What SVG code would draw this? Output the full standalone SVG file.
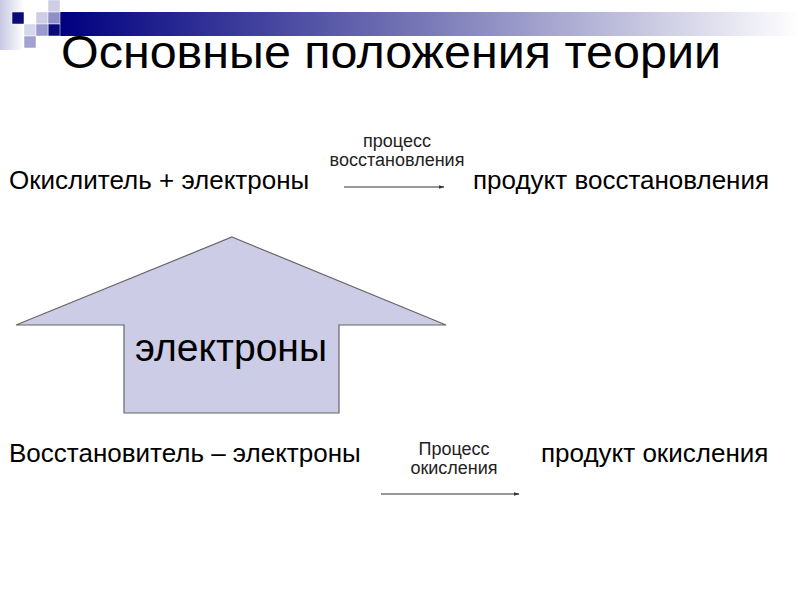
<svg xmlns="http://www.w3.org/2000/svg" width="800" height="600" viewBox="0 0 800 600">
<defs>
<linearGradient id="bar" x1="0" y1="0" x2="1" y2="0">
<stop offset="0" stop-color="#000080"/>
<stop offset="0.5" stop-color="#7a7ab8"/>
<stop offset="1" stop-color="#ffffff"/>
</linearGradient>
<linearGradient id="side" x1="0" y1="0" x2="1" y2="0">
<stop offset="0" stop-color="#c8c8e4"/>
<stop offset="1" stop-color="#ffffff"/>
</linearGradient>
<marker id="ah" viewBox="0 0 10 10" refX="9" refY="5" markerWidth="5" markerHeight="5" orient="auto">
<path d="M0,2 L10,5 L0,8 z" fill="#333"/>
</marker>
<style>
text{font-family:"Liberation Sans",Arial,sans-serif;fill:#000}
.big{font-size:26px}
.small{font-size:18px;text-anchor:middle;fill:#222}
.conn{stroke:#333;stroke-width:1.2;fill:none;marker-end:url(#ah)}
.sq{stroke:#fff;stroke-width:0.5}
</style>
</defs>
<g id="header">
<rect x="0" y="0" width="24" height="50" fill="url(#side)"/>
<rect x="60" y="12" width="740" height="24" fill="url(#bar)"/>
<rect class="sq" x="12" y="12" width="12" height="12" fill="#0a0a7a"/>
<rect class="sq" x="36" y="12" width="12" height="12" fill="#cdcde6"/>
<rect class="sq" x="48" y="0" width="12" height="12" fill="#cdcde6"/>
<rect class="sq" x="48" y="12" width="12" height="12" fill="#8f8fc6"/>
<rect class="sq" x="48" y="24" width="12" height="12" fill="#0a0a7a"/>
<rect class="sq" x="24" y="24" width="12" height="12" fill="#d6d6ec"/>
<rect class="sq" x="36" y="24" width="12" height="12" fill="#9a9acc"/>
<rect class="sq" x="24" y="36" width="12" height="12" fill="#a2a2d0"/>
</g>
<text id="title" x="61" y="68" font-size="46" textLength="660" lengthAdjust="spacingAndGlyphs">Основные положения теории</text>
<g id="arrow-electrons">
<path d="M232,237 L446,325 L339,325 L339,413 L124,413 L124,325 L16,325 Z" fill="#cccce6" stroke="#666" stroke-width="1.2"/>
<text x="135" y="361" font-size="38" textLength="192" lengthAdjust="spacingAndGlyphs">электроны</text>
</g>
<g id="oxidizer"><text class="big" x="9" y="189">Окислитель + электроны</text></g>
<g id="reduction-product"><text class="big" x="473" y="189">продукт восстановления</text></g>
<g id="reducer"><text class="big" x="9" y="462">Восстановитель – электроны</text></g>
<g id="oxidation-product"><text class="big" x="541" y="462">продукт окисления</text></g>
<g id="connectors">
<line class="conn" x1="344" y1="187" x2="444" y2="187"/>
<text class="small" x="397" y="147">процесс</text>
<text class="small" x="397" y="166">восстановления</text>
<line class="conn" x1="381" y1="494" x2="519" y2="494"/>
<text class="small" x="454" y="455">Процесс</text>
<text class="small" x="454" y="474">окисления</text>
</g>
</svg>
